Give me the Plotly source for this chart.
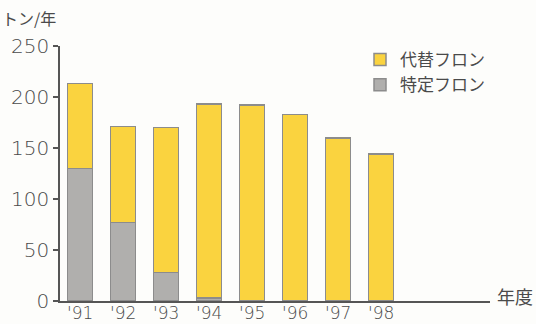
import plotly.graph_objects as go

# Fiscal years and fluorocarbon usage (tons per year)
years = ["'91", "'92", "'93", "'94", "'95", "'96", "'97", "'98"]
specified_cfc = [130, 77, 28, 3, 0, 0, 0, 0]          # 特定フロン
total_usage = [213, 171, 170, 193, 192, 183, 160, 144]  # bar totals
substitute_cfc = [t - s for t, s in zip(total_usage, specified_cfc)]  # 代替フロン

y_ticks = [0, 50, 100, 150, 200, 250]

FONT = "Noto Sans CJK JP"
NUM_FONT = "DejaVu Sans"
TEXT = "#4a4a4a"
OUTLINE = "#8c8c8c"

fig = go.Figure()
fig.add_trace(go.Bar(
    x=years, y=specified_cfc, name="特定フロン",
    marker=dict(color="#b0afad", line=dict(color=OUTLINE, width=1.5)),
))
fig.add_trace(go.Bar(
    x=years, y=substitute_cfc, name="代替フロン",
    marker=dict(color="#fad33f", line=dict(color=OUTLINE, width=1.5)),
))

W, H = 536, 324
ml, mr, mt, mb = 60, 46, 46, 23
pw, ph = W - ml - mr, H - mt - mb

fig.update_layout(
    width=W, height=H,
    margin=dict(l=ml, r=mr, t=mt, b=mb, pad=0),
    barmode="stack", bargap=0.42,
    paper_bgcolor="#fdfdfb", plot_bgcolor="#fdfdfb",
    font=dict(family=FONT, color=TEXT),
    showlegend=True,
    legend=dict(
        x=(360 - ml) / pw, y=1 + 4 / ph, xanchor="left", yanchor="top",
        traceorder="reversed", font=dict(size=17, color=TEXT),
        bgcolor="rgba(0,0,0,0)", itemwidth=30, tracegroupgap=0,
    ),
    xaxis=dict(
        range=[-0.47, 9.53], showgrid=False, zeroline=False, automargin=False,
        showline=True, linecolor="#555555", linewidth=1.5,
        ticks="", tickfont=dict(family=NUM_FONT, size=17, color=TEXT, weight=200),
        ticklabelstandoff=-4,
    ),
    yaxis=dict(
        range=[0, 250], tickvals=y_ticks, showgrid=False, zeroline=False,
        automargin=False,
        showline=True, linecolor="#555555", linewidth=1.5,
        ticks="outside", ticklen=5, tickcolor="#555555", tickwidth=1.5,
        tickfont=dict(family=NUM_FONT, size=20, color=TEXT, weight=200),
    ),
    annotations=[
        dict(text="トン/年", xref="paper", yref="paper",
             x=(0 - ml) / pw, y=1 + (mt - 18) / ph, xanchor="left", yanchor="middle",
             showarrow=False, font=dict(size=16, color=TEXT)),
        dict(text="年度", xref="paper", yref="paper",
             x=(495 - ml) / pw, y=5 / ph, xanchor="left", yanchor="middle",
             showarrow=False, font=dict(size=18, color=TEXT)),
    ],
)

fig.write_html("out.html")
